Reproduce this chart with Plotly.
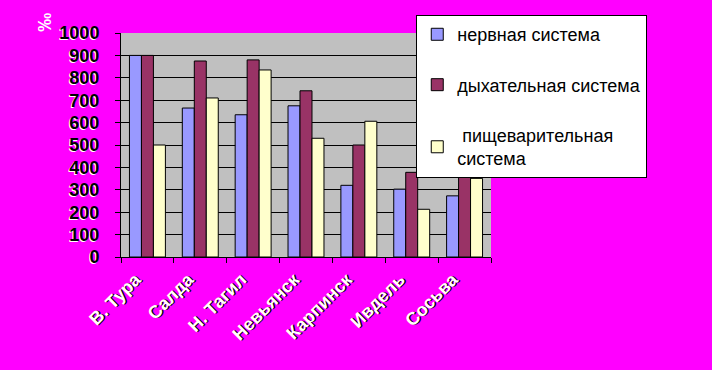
import plotly.graph_objects as go

categories = ["В. Тура", "Салда", "Н. Тагил", "Невьянск", "Карпинск", "Ивдель", "Сосьва"]
nervous = [900, 665, 635, 675, 320, 303, 273]
respiratory = [900, 875, 880, 742, 500, 378, 530]
digestive = [500, 710, 835, 530, 606, 213, 351]
series_names = ["нервная система", "дыхательная система", "\u00a0пищеварительная<br>система"]
y_ticks = [0, 100, 200, 300, 400, 500, 600, 700, 800, 900, 1000]

colors = ["#9999FF", "#993366", "#FFFFCC"]
FONT = "Liberation Sans, Arial, sans-serif"

fig = go.Figure()
for i, (name, vals) in enumerate(zip(series_names, [nervous, respiratory, digestive])):
    fig.add_trace(go.Bar(
        x=categories, y=vals, name=name, legendgroup=str(i),
        marker=dict(color=colors[i], line=dict(color="black", width=1)),
    ))

fig.update_layout(
    width=712, height=370,
    paper_bgcolor="#FF00FF", plot_bgcolor="#C0C0C0",
    margin=dict(l=121, r=221, t=33, b=113, autoexpand=False),
    barmode="group", bargap=0.32, bargroupgap=0,
    font=dict(family=FONT),
    legend=dict(
        x=0.798, y=1.08, xanchor="left", yanchor="top",
        bgcolor="white", bordercolor="black", borderwidth=1,
        font=dict(family=FONT, size=18, color="black"),
        tracegroupgap=24, itemwidth=30,
    ),
    xaxis=dict(
        type="category", tickson="boundaries", ticks="outside", ticklen=5,
        tickcolor="black", showline=True, linecolor="black", linewidth=1,
        tickangle=-45, showgrid=False, ticklabelshift=-12, ticklabelstandoff=4,
        tickfont=dict(family=FONT, size=18, color="white", weight="bold",
                      shadow="1px 1px 0px black"),
    ),
    yaxis=dict(
        range=[0, 1000], tickvals=y_ticks, ticks="outside", ticklen=5,
        tickcolor="black", showline=True, linecolor="black", linewidth=1,
        showgrid=True, gridcolor="black", gridwidth=1, zeroline=False,
        ticklabelstandoff=12,
        tickfont=dict(family=FONT, size=18, color="black", weight="bold",
                      shadow="-1px 1px 0px white"),
    ),
    annotations=[dict(
        text="‰", xref="paper", yref="paper", x=-0.2056, y=1.05,
        xanchor="center", yanchor="middle", textangle=-90, showarrow=False,
        font=dict(family=FONT, size=19, color="white", weight="bold"),
    )],
)

fig.write_html("out.html", config={"displayModeBar": False},
               post_script="document.body.style.margin='0';")
